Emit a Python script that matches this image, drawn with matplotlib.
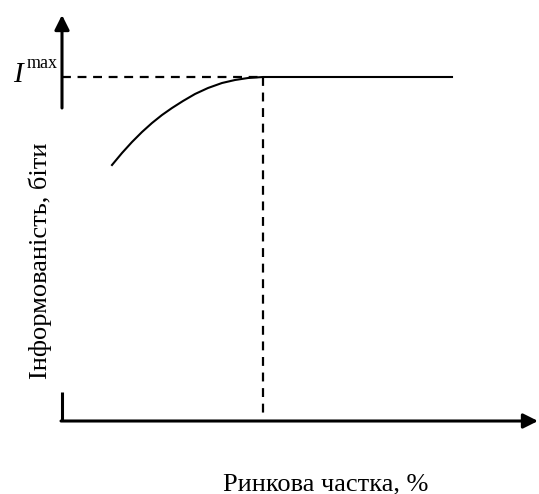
import matplotlib
matplotlib.use("Agg")
import matplotlib.pyplot as plt

# ринкова частка (x) і інформованість (y), умовні одиниці
share = [50, 60, 70, 80, 90, 100, 110, 121, 133, 146, 160, 173, 186, 201, 390]
info = [256, 268, 279, 289, 298, 306, 313, 320, 327, 333, 338, 341, 343, 344, 344]
i_max = 344
share_at_max = 201

x_label = "Ринкова частка, %"
y_label = "Інформованість, біти"

serif = "Liberation Serif"

fig = plt.figure(figsize=(5.39, 4.94), dpi=100)
ax = fig.add_axes([0, 0, 1, 1])
ax.set_xlim(-62, 477)
ax.set_ylim(-73, 421)
ax.axis("off")

# осі
arrow = dict(arrowstyle="-|>", lw=2.2, color="black", mutation_scale=22,
             shrinkA=0, shrinkB=0)
ax.annotate("", xy=(0, 406), xytext=(0, 313), arrowprops=arrow)
ax.annotate("", xy=(476, 0), xytext=(-1, 0), arrowprops=arrow)
ax.plot([0, 0], [0, 29], color="black", lw=2.2, solid_capstyle="butt")

# пунктирні лінії
ax.plot([0, share_at_max], [i_max, i_max], color="black", lw=1.6,
        dashes=(4, 3))
ax.plot([share_at_max, share_at_max], [i_max, 8], color="black", lw=1.6,
        dashes=(4, 3))

# крива
ax.plot(share, info, color="black", lw=1.5)

# підписи
ax.text(-39, 339, "I", ha="right", va="baseline", style="italic",
        family=serif, size=21)
ax.text(-35, 353, "max", ha="left", va="baseline", family=serif, size=13)
ax.text(-22, 160, y_label, rotation=90, ha="center", va="center",
        family=serif, size=19)
ax.text(264, -69, x_label, ha="center", va="baseline", family=serif, size=19)

fig.savefig("out.png", dpi=100)
